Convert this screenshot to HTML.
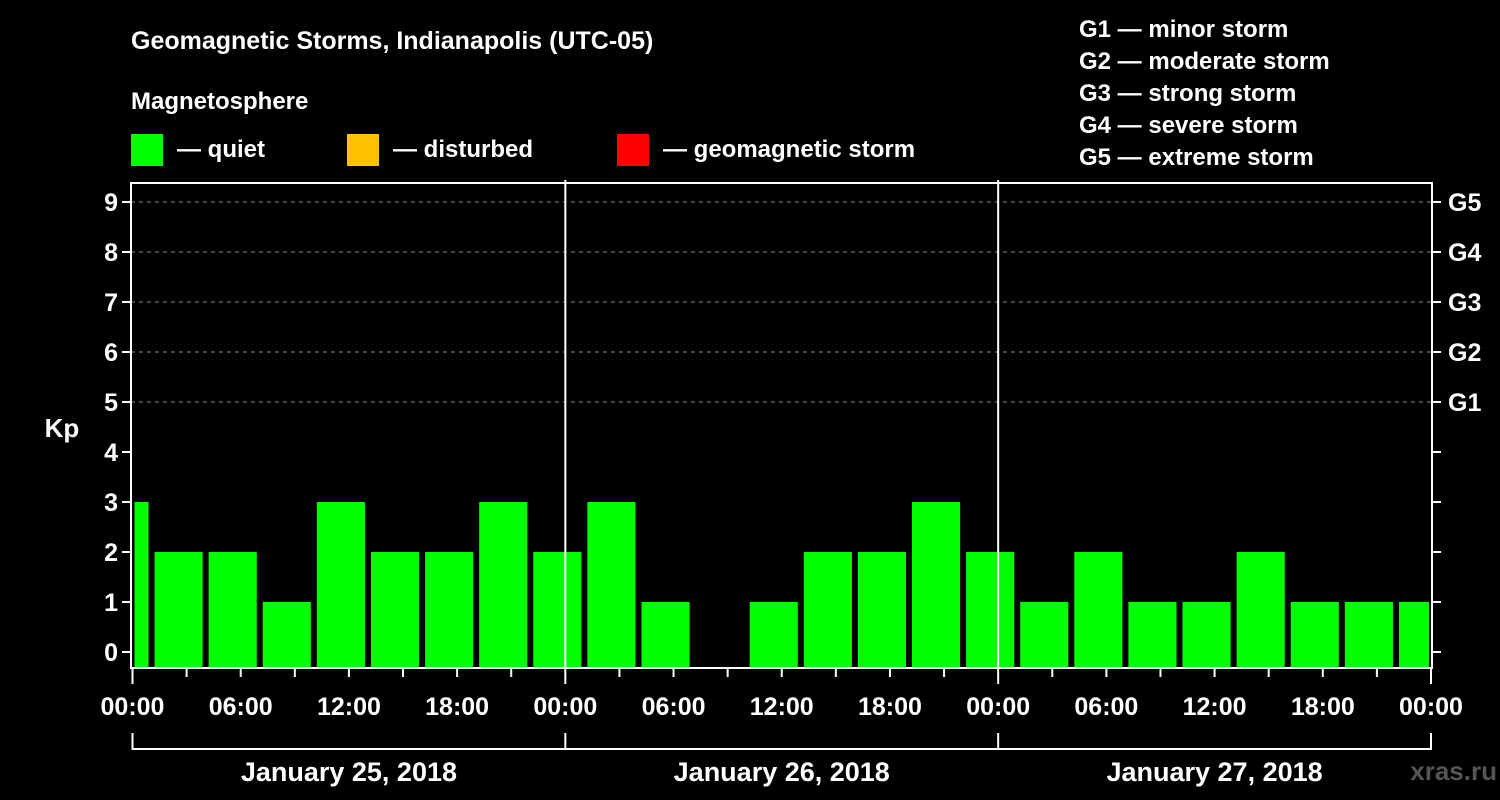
<!DOCTYPE html>
<html><head><meta charset="utf-8"><style>
body{margin:0;background:#000;}
svg{display:block;font-family:"Liberation Sans",sans-serif;font-weight:bold;}
</style></head><body>
<svg width="1500" height="800" viewBox="0 0 1500 800">
<rect width="1500" height="800" fill="#000"/>
<text x="131" y="49" fill="#fff" font-size="25">Geomagnetic Storms, Indianapolis (UTC-05)</text>
<text x="131" y="109" fill="#fff" font-size="24">Magnetosphere</text>
<g><rect x="131" y="134" width="32" height="32" fill="#00ff00"/><text x="177" y="157" fill="#fff" font-size="24">— quiet</text></g>
<g><rect x="347" y="134" width="32" height="32" fill="#ffc000"/><text x="393" y="157" fill="#fff" font-size="24">— disturbed</text></g>
<g><rect x="617" y="134" width="32" height="32" fill="#ff0000"/><text x="663" y="157" fill="#fff" font-size="24">— geomagnetic storm</text></g>
<g fill="#fff" font-size="24">
<text x="1079" y="37">G1 — minor storm</text>
<text x="1079" y="69">G2 — moderate storm</text>
<text x="1079" y="101">G3 — strong storm</text>
<text x="1079" y="133">G4 — severe storm</text>
<text x="1079" y="165">G5 — extreme storm</text>
</g>
<text x="62" y="437" fill="#fff" font-size="26" text-anchor="middle">Kp</text>
<text x="1497" y="780" fill="#555" font-size="26" text-anchor="end">xras.ru</text>
<g id="grid"></g><g id="bars"></g><g id="axes"></g>
</svg>
<script>
const kpValues=[3,2,2,1,3,2,2,3,2, 3,1,0,1,2,2,3,2, 1,2,1,1,2,1,1,1];
const yTicks=[0,1,2,3,4,5,6,7,8,9];
const gLabels=["G1","G2","G3","G4","G5"];
const xTickLabels=["00:00","06:00","12:00","18:00","00:00","06:00","12:00","18:00","00:00","06:00","12:00","18:00","00:00"];
const dayLabels=["January 25, 2018","January 26, 2018","January 27, 2018"];
const startHour=-2;
const NS="http://www.w3.org/2000/svg";
const L=131,R=1432,T=183,B=668;
const x=h=>132.5+h*(1431-132.5)/72;
const y=v=>652-v*50;
function mk(t,a,p){const e=document.createElementNS(NS,t);for(const k in a)e.setAttribute(k,a[k]);p.appendChild(e);return e;}
const grid=document.getElementById('grid'),bars=document.getElementById('bars'),axes=document.getElementById('axes');
yTicks.forEach(v=>{
  if(v>=5){const l=mk('line',{x1:L,x2:R,y1:y(v),y2:y(v),stroke:'#888','stroke-width':1,'stroke-dasharray':'4,4'},grid);
  
  }
  mk('line',{x1:L-9,x2:L,y1:y(v),y2:y(v),stroke:'#fff','stroke-width':2},axes);
  mk('line',{x1:R,x2:R+9,y1:y(v),y2:y(v),stroke:'#fff','stroke-width':2},axes);
  const t=mk('text',{x:118,y:y(v)+9,fill:'#fff','font-size':25,'text-anchor':'end'},axes);t.textContent=v;
  
  
});
gLabels.forEach((g,i)=>{const t=mk('text',{x:1448,y:y(i+5)+9,fill:'#fff','font-size':25},axes);t.textContent=g;
  
  });
kpValues.forEach((v,i)=>{
  const s=Math.max(startHour+3*i,0),e=Math.min(startHour+3*i+3,72);
  if(v<=0||e<=s)return;
  const x1=x(s)+(s===0?2:4),x2=x(e)-2;
  const r=mk('rect',{x:x1,y:y(v),width:x2-x1,height:B-y(v),fill:v>=5?'#ff0000':(v>=4?'#ffc000':'#00ff00')},bars);
  
  
});
mk('path',{d:`M${L},${T}H${R}V${B}H${L}Z`,fill:'none',stroke:'#fff','stroke-width':2},axes);
[24,48].forEach(h=>mk('line',{x1:x(h),x2:x(h),y1:T-3,y2:B,stroke:'#fff','stroke-width':2},axes));
for(let h=0;h<=72;h+=3){const big=h%24===0;mk('line',{x1:x(h),x2:x(h),y1:B,y2:B+(big?16:9),stroke:'#fff','stroke-width':2},axes);}
xTickLabels.forEach((s,i)=>{const t=mk('text',{x:x(i*6),y:715,fill:'#fff','font-size':25,'text-anchor':'middle'},axes);t.textContent=s;
  
  });
mk('line',{x1:x(0),x2:x(72),y1:749,y2:749,stroke:'#fff','stroke-width':2},axes);
[0,24,48,72].forEach(h=>mk('line',{x1:x(h),x2:x(h),y1:733,y2:750,stroke:'#fff','stroke-width':2},axes));
dayLabels.forEach((d,i)=>{const t=mk('text',{x:x(i*24+12),y:781,fill:'#fff','font-size':27,'text-anchor':'middle'},axes);t.textContent=d;
  
  });
</script>
</body></html>
